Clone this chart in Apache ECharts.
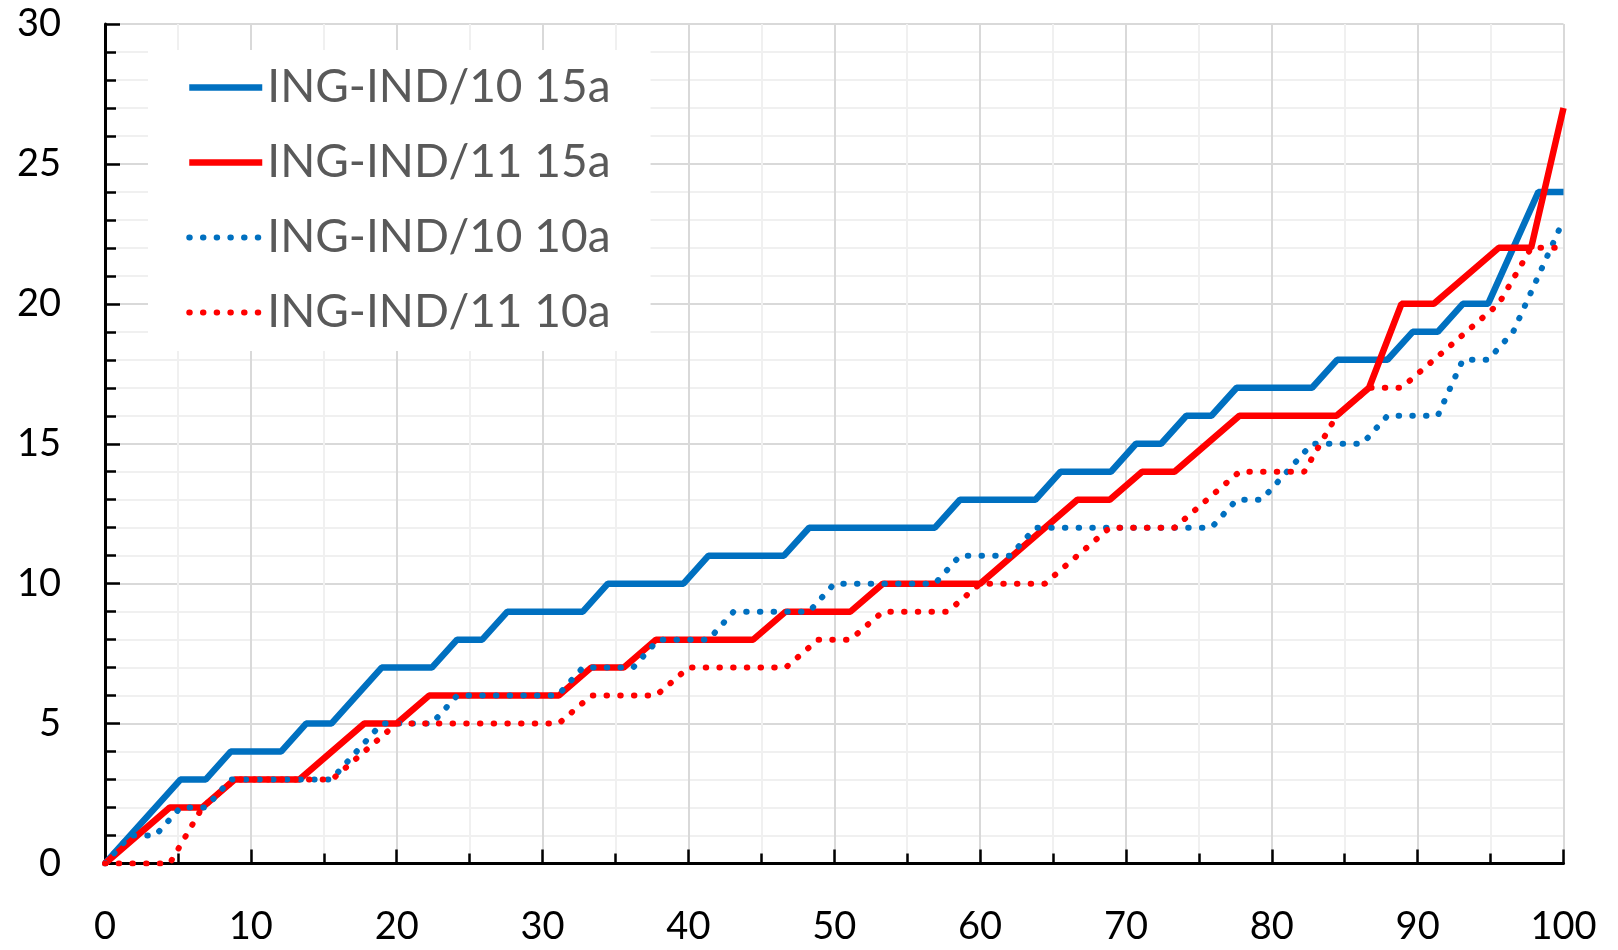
<!DOCTYPE html>
<html>
<head>
<meta charset="utf-8">
<title>ING-IND</title>
<script src="https://cdn.jsdelivr.net/npm/echarts@6/dist/echarts.min.js"></script>
<style>
  html, body { margin: 0; padding: 0; background: #fff; }
  #chart { width: 1618px; height: 950px; }
</style>
</head>
<body>
<div id="chart"></div>
<script>
// vertices [x, y]
const ind10_15a = [[0,0],[5.17,3],[6.9,3],[8.62,4],[12.07,4],[13.79,5],[15.52,5],[18.97,7],[22.41,7],[24.14,8],[25.86,8],[27.59,9],[32.76,9],[34.48,10],[39.66,10],[41.38,11],[46.55,11],[48.28,12],[56.9,12],[58.62,13],[63.79,13],[65.52,14],[68.97,14],[70.69,15],[72.41,15],[74.14,16],[75.86,16],[77.59,17],[82.76,17],[84.48,18],[87.93,18],[89.66,19],[91.38,19],[93.1,20],[94.83,20],[98.28,24],[100,24]]
const ind11_15a = [[0,0],[4.44,2],[6.67,2],[8.89,3],[13.33,3],[17.78,5],[20,5],[22.22,6],[31.11,6],[33.33,7],[35.56,7],[37.78,8],[44.44,8],[46.67,9],[51.11,9],[53.33,10],[60,10],[66.67,13],[68.89,13],[71.11,14],[73.33,14],[77.78,16],[84.44,16],[86.67,17],[88.89,20],[91.11,20],[95.56,22],[97.78,22],[100,27]]
const ind10_10a = [[0,0],[1.72,1],[3.45,1],[5.17,2],[6.9,2],[8.62,3],[15.52,3],[18.97,5],[22.41,5],[24.14,6],[31.03,6],[32.76,7],[36.21,7],[37.93,8],[41.38,8],[43.1,9],[48.28,9],[50,10],[56.9,10],[58.62,11],[62.07,11],[63.79,12],[75.86,12],[77.59,13],[79.31,13],[82.76,15],[86.21,15],[87.93,16],[91.38,16],[93.1,18],[94.83,18],[96.55,19],[98.28,21],[100,23]]
const ind11_10a = [[0,0],[4.44,0],[6.67,2],[8.89,3],[15.56,3],[20,5],[31.11,5],[33.33,6],[37.78,6],[40,7],[46.67,7],[48.89,8],[51.11,8],[53.33,9],[57.78,9],[60,10],[64.44,10],[68.89,12],[73.33,12],[77.78,14],[82.22,14],[84.44,16],[86.67,17],[88.89,17],[95.56,20],[97.78,22],[100,22]]

const seriesNames = ['ING-IND/10 15a', 'ING-IND/11 15a', 'ING-IND/10 10a', 'ING-IND/11 10a']
const xTicks = { min: 0, max: 100, step: 10 }
const yTicks = { min: 0, max: 30, step: 5 }

const BLUE = '#0070C0'
const RED = '#FF0000'
const FONT = 'Lato, "Open Sans", sans-serif'

const chart = echarts.init(document.getElementById('chart'))

function solid(name, data, color) {
  return {
    name, type: 'line', data,
    symbol: 'none', showSymbol: false,
    lineStyle: { color, width: 6.5 },
    itemStyle: { color }
  }
}

function dotted(name, data, color) {
  return {
    name, type: 'line', data,
    symbol: 'none', showSymbol: false,
    lineStyle: { color, width: 6, type: [0.5, 13.2], cap: 'round' },
    itemStyle: { color }
  }
}

const axisCommon = {
  type: 'value',
  axisLine: { show: true, onZero: false, lineStyle: { color: '#000', width: 3 } },
  axisTick: { show: true, inside: true, length: 14, lineStyle: { color: '#000', width: 2.5 } },
  minorTick: { show: true, length: 10, lineStyle: { color: '#000', width: 2.5 } },
  splitLine: { show: true, lineStyle: { color: '#d9d9d9', width: 2 } },
  minorSplitLine: { show: true, lineStyle: { color: '#f0f0f0', width: 2 } },
  axisLabel: { color: '#000', fontSize: 38, fontFamily: FONT, margin: 44 }
}

chart.setOption({
  animation: false,
  backgroundColor: '#fff',
  grid: { left: 105, top: 24, right: 54.5, bottom: 86.5 },
  xAxis: Object.assign({}, axisCommon, {
    min: xTicks.min, max: xTicks.max, interval: xTicks.step,
    minorTick: Object.assign({}, axisCommon.minorTick, { splitNumber: 2 })
  }),
  yAxis: Object.assign({}, axisCommon, {
    min: yTicks.min, max: yTicks.max, interval: yTicks.step,
    axisTick: Object.assign({}, axisCommon.axisTick, { length: 15 }),
    minorTick: Object.assign({}, axisCommon.minorTick, { splitNumber: 5, length: 11 })
  }),
  legend: {
    orient: 'vertical',
    left: 148,
    top: 50,
    padding: [0, 40, 1, 38],
    itemGap: 0,
    itemWidth: 73,
    itemHeight: 14,
    backgroundColor: '#fff',
    itemStyle: { opacity: 0, color: 'rgba(0,0,0,0)', borderWidth: 0 },
    lineStyle: { width: 'inherit' },
    textStyle: { fontSize: 46, color: '#595959', fontFamily: FONT, lineHeight: 75 },
    data: seriesNames
  },
  series: [
    solid(seriesNames[0], ind10_15a, BLUE),
    solid(seriesNames[1], ind11_15a, RED),
    dotted(seriesNames[2], ind10_10a, BLUE),
    dotted(seriesNames[3], ind11_10a, RED)
  ]
})
</script>
</body>
</html>
